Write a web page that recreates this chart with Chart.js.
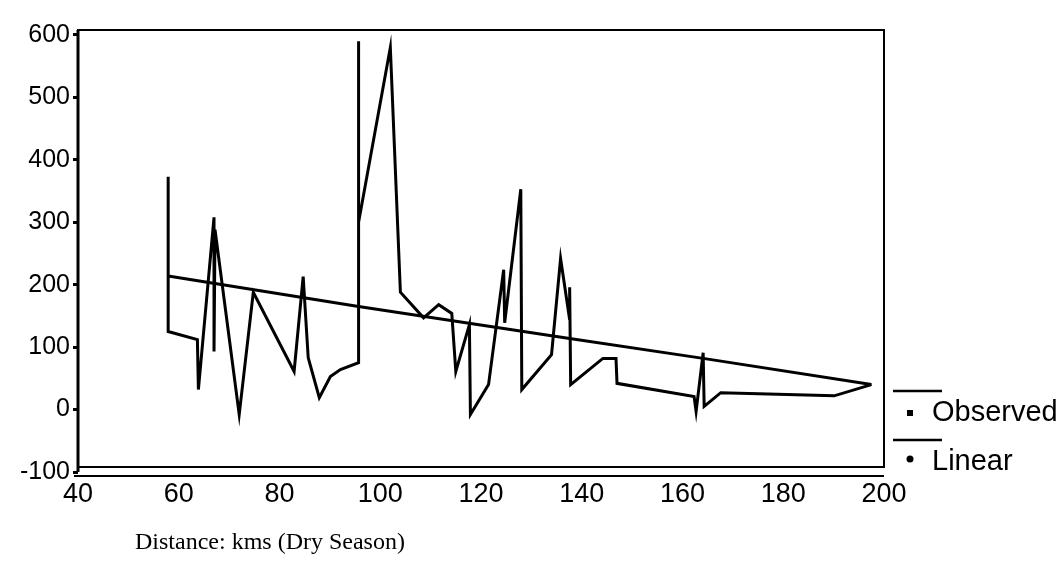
<!DOCTYPE html>
<html>
<head>
<meta charset="utf-8">
<script src="https://cdn.jsdelivr.net/npm/chart.js@4"></script>
<style>
  body { margin: 0; background: #fff; }
  canvas { display: block; }
</style>
</head>
<body>
<canvas id="myChart" width="1061" height="568"></canvas>
<script>
// observed values along the river (km, value)
const obsKm = [57.9, 57.9, 63.7, 63.9, 67.0, 67.0, 67.2, 72.0, 74.8, 82.9, 84.7, 85.7, 87.9, 90.1, 92.1,
  95.7, 95.7, 95.7, 102.0, 104.0, 108.6, 111.6, 114.2, 115.0, 117.7, 117.9, 121.5, 124.5, 124.7,
  127.9, 128.1, 134.0, 135.8, 137.6, 137.6, 137.8, 144.2, 146.8, 147.0, 162.3, 162.7, 164.1,
  164.3, 167.6, 190.1, 197.5];
const obsVal = [373, 125, 112, 32, 308, 93, 288, -8, 188, 61, 213, 83, 19, 53, 64,
  75, 590, 300, 580, 188, 147, 168, 154, 61, 136, -8, 40, 224, 139,
  353, 32, 88, 242, 144, 196, 40, 82, 82, 42, 21, -3, 91,
  5, 27, 22, 40];

// linear fit line
const linKm = [57.9, 95.7, 137.6, 164.1, 197.5];
const linVal = [214, 165, 114, 82, 40];

const yTicks = [-100, 0, 100, 200, 300, 400, 500, 600];
const legendNames = ['Observed', 'Linear'];
const xTitle = 'Distance: kms (Dry Season)';

function toPoints(xs, ys) {
  return xs.map((x, i) => ({ x: x, y: ys[i] }));
}

// frame, second axis line, legend and caption
const extras = {
  id: 'extras',
  afterDraw(chart) {
    const ctx = chart.ctx;
    const a = chart.chartArea;
    ctx.save();
    ctx.strokeStyle = '#000';
    ctx.lineWidth = 2;
    ctx.strokeRect(a.left, a.top, a.right - a.left, a.bottom - a.top - 5);
    ctx.lineWidth = 3;
    ctx.beginPath();
    ctx.moveTo(a.left, a.top);
    ctx.lineTo(a.left, a.bottom);
    ctx.stroke();
    ctx.lineWidth = 2;
    ctx.beginPath();
    ctx.moveTo(a.left - 4, a.bottom + 4);
    ctx.lineTo(a.right, a.bottom + 4);
    ctx.stroke();

    // legend
    ctx.fillStyle = '#000';
    ctx.font = '29px "Liberation Sans", Arial, sans-serif';
    ctx.textBaseline = 'middle';
    const rows = [391, 440];
    legendNames.forEach((name, i) => {
      const y = rows[i];
      ctx.lineWidth = 2.5;
      ctx.beginPath();
      ctx.moveTo(893, y);
      ctx.lineTo(942, y);
      ctx.stroke();
      if (i == 0) {
        ctx.fillRect(907, y + 19, 6, 6);
      } else {
        ctx.beginPath();
        ctx.arc(910, y + 19, 3.5, 0, Math.PI * 2);
        ctx.fill();
      }
      ctx.fillText(name, 932, y + 22);
    });

    ctx.font = '24px "Liberation Serif", "Times New Roman", serif';
    ctx.textBaseline = 'alphabetic';
    ctx.fillText(xTitle, 135, 549);
    ctx.restore();
  }
};

const config = {
  type: 'line',
  data: {
    datasets: [{
      label: legendNames[0],
      data: toPoints(obsKm, obsVal),
      borderColor: '#000',
      borderWidth: 3,
      pointRadius: 0,
      tension: 0
    }, {
      label: legendNames[1],
      data: toPoints(linKm, linVal),
      borderColor: '#000',
      borderWidth: 3,
      pointRadius: 0,
      tension: 0
    }]
  },
  options: {
    responsive: false,
    animation: false,
    layout: { padding: { top: 30, right: 177, left: 0, bottom: 0 } },
    plugins: {
      legend: { display: false },
      tooltip: { enabled: false }
    },
    scales: {
      x: {
        type: 'linear',
        min: 40,
        max: 200,
        afterFit(scale) { scale.height = 96; },
        ticks: {
          stepSize: 20,
          color: '#000',
          padding: -2,
          font: { family: '"Liberation Sans", Arial, sans-serif', size: 27 }
        },
        grid: { display: false },
        border: { display: false }
      },
      y: {
        type: 'linear',
        min: -100,
        max: 608,
        afterFit(scale) { scale.width = 78; },
        afterBuildTicks(scale) { scale.ticks = yTicks.map(v => ({ value: v })); },
        ticks: {
          color: '#000',
          padding: 3,
          font: { family: '"Liberation Sans", Arial, sans-serif', size: 25 }
        },
        grid: { drawOnChartArea: false, drawTicks: true, tickLength: 5, color: '#000', lineWidth: 3 },
        border: { display: false }
      }
    }
  },
  plugins: [extras]
};

new Chart(document.getElementById('myChart').getContext('2d'), config);
</script>
</body>
</html>
